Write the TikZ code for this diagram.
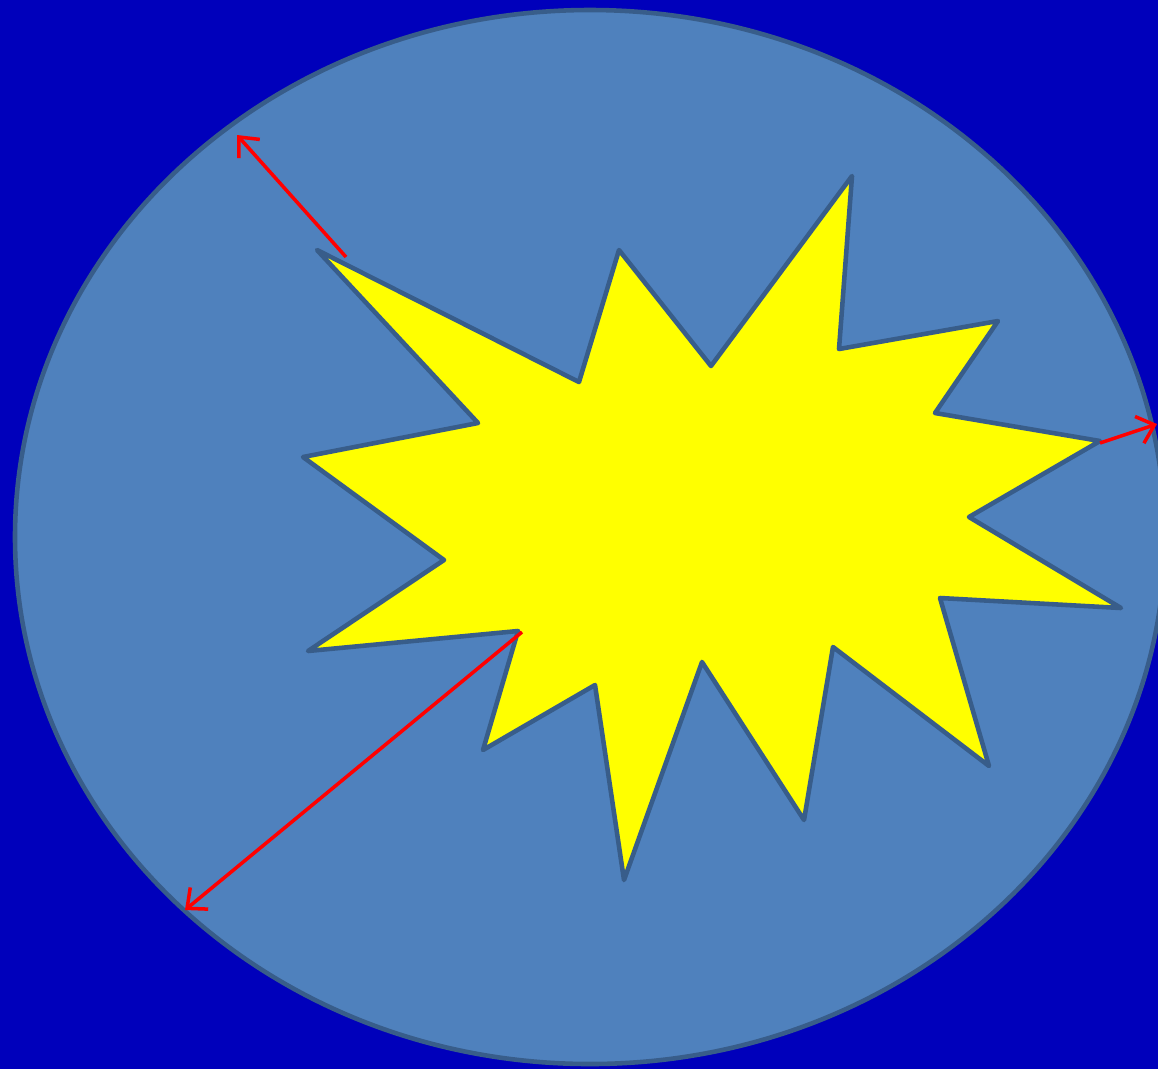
\documentclass[tikz,border=0pt]{standalone}
\usetikzlibrary{arrows.meta}
\definecolor{bgblue}{RGB}{0,0,187}
\definecolor{lightblue}{RGB}{79,129,189}
\definecolor{edgeblue}{RGB}{56,93,138}
\definecolor{starfill}{RGB}{255,255,0}
\definecolor{rayred}{RGB}{255,0,0}

\begin{document}
\begin{tikzpicture}[x=0.01cm,y=-0.01cm,>={Straight Barb[length=4.5pt,width=8pt,line width=1pt]},
  shapeline/.style={draw=edgeblue,line width=1.3pt,line join=round},
  ray/.style={rayred,line width=1pt,->}]
  \fill[bgblue] (0,0) rectangle (1158,1069);
  \useasboundingbox (0,0) rectangle (1158,1069);
  \clip (0,0) rectangle (1158,1069);
  \draw[shapeline,fill=lightblue] (590,537) ellipse [x radius=575,y radius=527];
  \draw[shapeline,fill=starfill] (317,250) -- (579,382) -- (619,250) -- (711,366)
    -- (852,176) -- (839,349) -- (998,321) -- (935,413) -- (1100,441)
    -- (969,517) -- (1121,608) -- (940,598) -- (989,766) -- (833,647)
    -- (804,820) -- (702,662) -- (624,880) -- (595,685) -- (483,750)
    -- (518,631) -- (308,651) -- (444,560) -- (303,457) -- (478,423) -- cycle;
  \coordinate (tlstart) at (346,257);
  \coordinate (tlend)   at (237,135);
  \coordinate (rstart)  at (1100,443);
  \coordinate (rend)    at (1157,424);
  \coordinate (blstart) at (522,632);
  \coordinate (blend)   at (185,910);
  \draw[ray] (tlstart) -- (tlend);
  \draw[ray] (rstart) -- (rend);
  \draw[ray] (blstart) -- (blend);
\end{tikzpicture}
\end{document}
